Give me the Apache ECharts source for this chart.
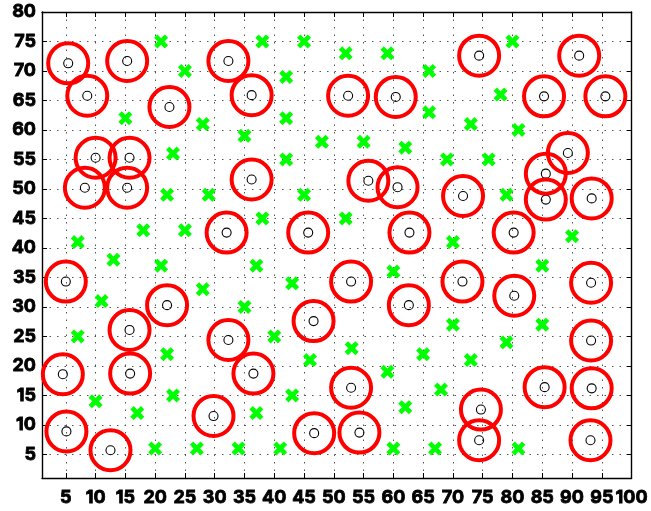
<!DOCTYPE html>
<html>
<head>
<meta charset="utf-8">
<script src="https://cdn.jsdelivr.net/npm/echarts@6/dist/echarts.min.js"></script>
<style>html,body{margin:0;padding:0;background:#fff}#c{width:651px;height:511px}</style>
</head>
<body>
<div id="c"></div>
<script>
// Circled points (black centre + red ring)
const circledX = [5.4, 8.6, 15.3, 22.4, 10.0, 15.7, 8.2, 15.3, 5.0, 22.0, 15.7, 4.5, 15.8, 5.1, 12.5, 29.8,
  32.3, 36.2, 52.4, 60.4, 74.4, 91.2, 85.3, 95.6, 89.3, 85.6, 85.6, 93.3, 71.7, 80.2, 71.6, 80.3, 93.2,
  36.2, 55.8, 60.7, 32.0, 45.7, 62.7, 52.9, 62.6, 46.6, 32.3, 36.5, 52.9, 46.7, 54.3, 93.2, 85.4, 93.3, 74.7, 74.4, 93.1];
const circledY = [71.3, 65.8, 71.7, 63.9, 55.3, 55.3, 50.2, 50.2, 34.3, 30.3, 26.1, 18.6, 18.7, 8.9, 5.7, 11.5,
  71.7, 65.9, 65.8, 65.6, 72.6, 72.6, 65.7, 65.7, 56.1, 52.6, 48.2, 48.4, 48.8, 42.6, 34.3, 31.9, 34.1,
  51.6, 51.4, 50.3, 42.6, 42.6, 42.6, 34.3, 30.3, 27.6, 24.4, 18.7, 16.3, 8.6, 8.7, 24.3, 16.4, 16.2, 12.6, 7.4, 7.4];
// Green crosses
const crossX = [21, 25, 15, 28, 23, 38, 45, 52, 59, 42, 42, 35, 48, 55, 62, 42,
  80, 66, 78, 66, 73, 81, 69, 76, 22, 29, 18, 25, 7, 13, 21, 28, 11,
  45, 38, 52, 37, 60, 43, 35, 79, 70, 90, 85, 70, 85,
  7, 22, 23, 10, 17, 20, 27, 40, 53, 46, 59, 43, 62, 37, 34, 41, 60, 79, 65, 73, 68, 67, 81];
const crossY = [75, 70, 62, 61, 56, 75, 75, 73, 73, 69, 62, 59, 58, 58, 57, 55,
  75, 70, 66, 63, 61, 60, 55, 55, 49, 49, 43, 43, 41, 38, 37, 33, 31,
  49, 45, 45, 37, 36, 34, 30, 49, 41, 42, 37, 27, 27,
  25, 22, 15, 14, 12, 6, 6, 25, 23, 21, 19, 15, 13, 12, 6, 6, 6, 24, 22, 21, 16, 6, 6];
// Tick labels
const xTicks = [5,10,15,20,25,30,35,40,45,50,55,60,65,70,75,80,85,90,95,100];
const yTicks = [5,10,15,20,25,30,35,40,45,50,55,60,65,70,75,80];

const circled = circledX.map((x, i) => [x, circledY[i]]);
const crosses = crossX.map((x, i) => [x, crossY[i]]);

const FONT = 'Inter, "Liberation Sans", Arial, sans-serif';
const gridLine = {show: true, lineStyle: {color: '#555', type: [1.5, 6], width: 1}};
const axisLine = {show: true, onZero: false, lineStyle: {color: '#000', width: 1.4}};
const labelStyle = {fontFamily: FONT, fontWeight: 'bold', fontSize: 18, color: '#000',
  textBorderColor: '#000', textBorderWidth: 0.8};

const chart = echarts.init(document.getElementById('c'), null, {renderer: 'canvas'});
chart.setOption({
  animation: false,
  backgroundColor: '#fff',
  grid: {left: 42, right: 18, top: 12, bottom: 33, containLabel: false},
  xAxis: [{
    type: 'value', min: 1, max: 100, position: 'bottom',
    axisLine: axisLine,
    axisTick: {show: true, inside: true, length: 5, customValues: xTicks, lineStyle: {color: '#000'}},
    axisLabel: Object.assign({show: true, margin: 11, hideOverlap: false, customValues: xTicks}, labelStyle),
    splitLine: gridLine
  }, {
    type: 'value', min: 1, max: 100, position: 'top',
    axisLine: axisLine,
    axisTick: {show: true, inside: true, length: 5, customValues: xTicks, lineStyle: {color: '#000'}},
    axisLabel: {show: false},
    splitLine: {show: false}
  }],
  yAxis: [{
    type: 'value', min: 1, max: 80, position: 'left',
    axisLine: axisLine,
    axisTick: {show: true, inside: true, length: 5, customValues: yTicks, lineStyle: {color: '#000'}},
    axisLabel: Object.assign({show: true, margin: 6, hideOverlap: false, customValues: yTicks}, labelStyle),
    splitLine: gridLine
  }, {
    type: 'value', min: 1, max: 80, position: 'right',
    axisLine: axisLine,
    axisTick: {show: true, inside: true, length: 5, customValues: yTicks, lineStyle: {color: '#000'}},
    axisLabel: {show: false},
    splitLine: {show: false}
  }],
  series: [{
    type: 'scatter', xAxisIndex: 0, yAxisIndex: 0, data: crosses,
    symbol: 'path://M0,2.4 L2.4,0 L5,2.6 L7.6,0 L10,2.4 L7.4,5 L10,7.6 L7.6,10 L5,7.4 L2.4,10 L0,7.6 L2.6,5 Z',
    symbolSize: 14,
    itemStyle: {color: '#00ff00', opacity: 1},
    emphasis: {disabled: true}, z: 3
  }, {
    type: 'scatter', xAxisIndex: 0, yAxisIndex: 0, data: circled,
    symbol: 'circle', symbolSize: 9,
    itemStyle: {color: 'rgba(0,0,0,0)', borderColor: '#000', borderWidth: 1.1, opacity: 1},
    emphasis: {disabled: true}, z: 4
  }, {
    type: 'scatter', xAxisIndex: 0, yAxisIndex: 0, data: circled,
    symbol: 'circle', symbolSize: 40,
    itemStyle: {color: 'rgba(0,0,0,0)', borderColor: '#ff0000', borderWidth: 4, opacity: 1},
    emphasis: {disabled: true}, z: 5
  }]
});
</script>
</body>
</html>
